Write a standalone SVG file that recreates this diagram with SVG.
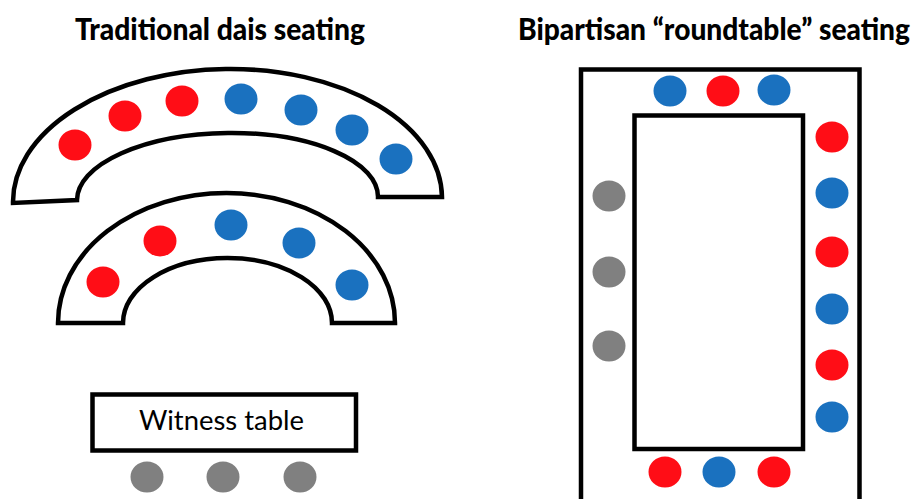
<svg xmlns="http://www.w3.org/2000/svg" width="919" height="499" viewBox="0 0 919 499">
  <style>
    .table { fill: #ffffff; stroke: #000000; stroke-width: 4.5; stroke-linejoin: miter; }
    .title { font-family: Lato, "Noto Sans", "Liberation Sans", sans-serif; font-weight: 900; font-size: 31px; fill: #000000; }
    .label { font-family: Lato, "Noto Sans", "Liberation Sans", sans-serif; font-weight: 400; font-size: 27px; fill: #000000; }
    .dem { fill: #1a71bf; }
    .rep { fill: #ff0d16; }
    .wit { fill: #808080; }
  </style>
  <defs>
    <ellipse id="seat" cx="0" cy="0" rx="16.5" ry="15.5"/>
  </defs>
  <rect width="919" height="499" fill="#ffffff"/>

  <!-- Headings -->
  <text class="title" x="75" y="40" textLength="290" lengthAdjust="spacingAndGlyphs">Traditional dais seating</text>
  <text class="title" x="518" y="40" textLength="392" lengthAdjust="spacingAndGlyphs">Bipartisan “roundtable” seating</text>

  <!-- Left layout: two curved dais tiers and a witness table -->
  <g id="upper-dais">
    <path class="table" d="M13,203 A214.5 131 -0.8 0 1 442,197 L378,197 A150.5 65.5 -0.8 0 0 77,200 Z"/>
    <use href="#seat" class="rep" x="75" y="145"/>
    <use href="#seat" class="rep" x="125" y="116"/>
    <use href="#seat" class="rep" x="182" y="101"/>
    <use href="#seat" class="dem" x="241" y="99"/>
    <use href="#seat" class="dem" x="301" y="110"/>
    <use href="#seat" class="dem" x="352" y="130"/>
    <use href="#seat" class="dem" x="396" y="159"/>
  </g>

  <g id="lower-dais">
    <path class="table" d="M58,323 A168.5 130 0 0 1 395,323 L332,323 A104.5 65 0 0 0 123,323 Z"/>
    <use href="#seat" class="rep" x="103" y="282"/>
    <use href="#seat" class="rep" x="160" y="241"/>
    <use href="#seat" class="dem" x="231" y="225"/>
    <use href="#seat" class="dem" x="299" y="243"/>
    <use href="#seat" class="dem" x="352" y="285"/>
  </g>

  <g id="witness-table">
    <rect class="table" x="92.5" y="394.5" width="263.5" height="56"/>
    <text class="label" x="139" y="430" textLength="165" lengthAdjust="spacingAndGlyphs">Witness table</text>
    <use href="#seat" class="wit" x="147" y="477"/>
    <use href="#seat" class="wit" x="223" y="477"/>
    <use href="#seat" class="wit" x="300" y="477"/>
  </g>

  <!-- Right layout: rectangular roundtable -->
  <g id="roundtable">
    <rect class="table" x="581" y="69.5" width="278.5" height="460"/>
    <rect class="table" x="634.5" y="115.5" width="168.5" height="333.5"/>
    <!-- top side -->
    <use href="#seat" class="dem" x="670" y="91"/>
    <use href="#seat" class="rep" x="723" y="91"/>
    <use href="#seat" class="dem" x="774" y="90"/>
    <!-- right side -->
    <use href="#seat" class="rep" x="832" y="137"/>
    <use href="#seat" class="dem" x="832" y="193"/>
    <use href="#seat" class="rep" x="832" y="252"/>
    <use href="#seat" class="dem" x="832" y="309"/>
    <use href="#seat" class="rep" x="832" y="365"/>
    <use href="#seat" class="dem" x="832" y="417"/>
    <!-- left side -->
    <use href="#seat" class="wit" x="609" y="196"/>
    <use href="#seat" class="wit" x="609" y="272"/>
    <use href="#seat" class="wit" x="609" y="346"/>
    <!-- bottom side -->
    <use href="#seat" class="rep" x="665" y="472"/>
    <use href="#seat" class="dem" x="719" y="472"/>
    <use href="#seat" class="rep" x="774" y="472"/>
  </g>
</svg>
